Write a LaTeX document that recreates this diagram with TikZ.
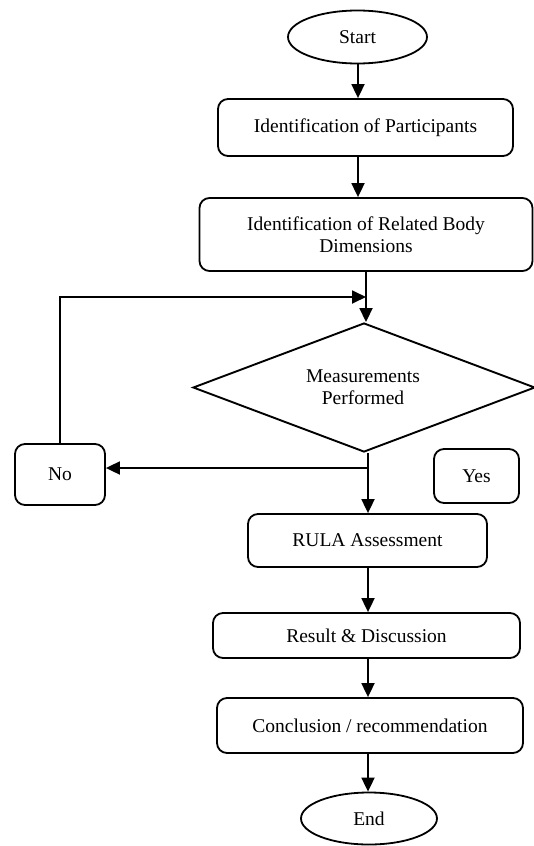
\documentclass[tikz,border=0pt]{standalone}
\usepackage{fontspec}
\setmainfont{Liberation Serif}
\usetikzlibrary{shapes.geometric,arrows.meta}
\tikzset{
  every node/.style={font=\fontsize{19.5}{22.5}\selectfont, align=center, inner sep=0pt},
  procbox/.style={draw, line width=1.8pt, rounded corners=10pt},
  term/.style={draw, ellipse, line width=1.8pt},
  decision/.style={draw, diamond, line width=1.9pt},
  conn/.style={line width=1.8pt, -{Triangle[length=14pt,width=13pt]}},
  plainline/.style={line width=1.8pt}
}
\begin{document}
\begin{tikzpicture}[x=1pt,y=-1pt]
\useasboundingbox (0,0) rectangle (534,846);
\node[term, minimum width=139pt, minimum height=53pt] (start) at (357.5,37) {Start};
\node[procbox, minimum width=295pt, minimum height=57pt] (b1) at (365.5,127.5) {Identification of Participants};
\node[procbox, minimum width=333pt, minimum height=73pt] (b2) at (366,234.5) {Identification of Related Body\\Dimensions};
\node[decision, minimum width=342pt, minimum height=129pt] (dia) at (364,387.5) {};
\node at (363,387) {Measurements\\Performed};
\node[procbox, minimum width=90pt, minimum height=61pt] (no) at (60,474.5) {No};
\node[procbox, minimum width=85pt, minimum height=54pt] (yes) at (476.5,476) {Yes};
\node[procbox, minimum width=239pt, minimum height=53pt] (rula) at (367.5,540.5) {RULA Assessment};
\node[procbox, minimum width=307pt, minimum height=45pt] (res) at (366.5,635.5) {Result \& Discussion};
\node[procbox, minimum width=306pt, minimum height=55pt] (conc) at (370,725.5) {Conclusion / recommendation};
\node[term, minimum width=136pt, minimum height=52pt] (end) at (369,818.5) {End};
\coordinate (c1) at (358,0);
\coordinate (c2) at (366,0);
\coordinate (fb) at (366,297);
\coordinate (split) at (368,468);
\draw[conn] (start.south -| c1) -- (b1.north -| c1);
\draw[conn] (b1.south -| c1) -- (b2.north -| c1);
\draw[conn] (b2.south -| c2) -- (dia.north -| c2);
\draw[conn] (no.north) |- (fb);
\draw[plainline] (dia.south -| split) -- (split);
\draw[conn] (split) -- (no.east |- split);
\draw[conn] (split) -- (rula.north -| split);
\draw[conn] (rula.south -| split) -- (res.north -| split);
\draw[conn] (res.south -| split) -- (conc.north -| split);
\draw[conn] (conc.south -| split) -- (end.north -| split);
\end{tikzpicture}
\end{document}
